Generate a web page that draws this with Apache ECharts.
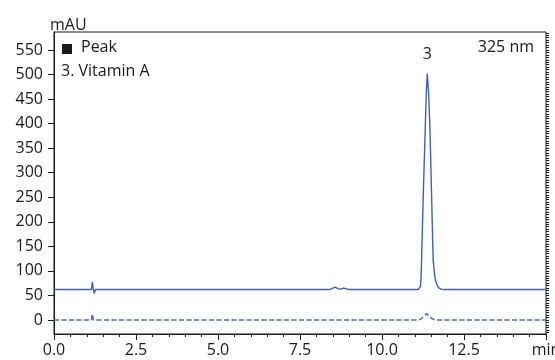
<!DOCTYPE html>
<html>
<head>
<meta charset="utf-8">
<script src="https://cdn.jsdelivr.net/npm/echarts@6/dist/echarts.min.js"></script>
<style>
  html, body { margin: 0; padding: 0; background: #fff; }
  #chart { width: 555px; height: 360px; }
</style>
</head>
<body>
<div id="chart"></div>
<script>
// 325 nm trace (solid)
const uvTime = [0.00, 1.14, 1.17, 1.20, 1.23, 1.26, 1.70, 1.73, 1.76, 2.55, 2.60, 2.65,
  4.58, 4.62, 4.66, 8.40, 8.50, 8.57, 8.66, 8.74, 8.82, 8.90, 9.00,
  11.10, 11.15, 11.17, 11.19, 11.21, 11.26, 11.32, 11.35, 11.38, 11.42, 11.46,
  11.51, 11.56, 11.61, 11.66, 11.72, 11.80, 11.90, 15.00];
const uvSignal = [62, 62, 78, 62, 54, 62, 62, 64, 62, 62, 63, 62,
  62, 63, 62, 62, 65, 67, 64, 63, 65, 64, 62,
  62, 64, 68, 85, 130, 259, 394, 463, 502, 463, 394,
  259, 122, 88, 74, 66, 63, 62, 62];

// blank trace (dashed)
const blankTime = [0.00, 1.14, 1.17, 1.20, 1.22, 1.25, 2.55, 2.60, 2.65,
  11.12, 11.20, 11.28, 11.36, 11.42, 11.50, 11.58, 11.68, 15.00];
const blankSignal = [0, 0, 12, 0, -4, 0, 0, 1.5, 0,
  0, 3, 8, 13, 10, 4, 1, 0, 0];

const yTicks = [0, 50, 100, 150, 200, 250, 300, 350, 400, 450, 500, 550];
const peakNames = ['3. Vitamin A'];
const peakLabel = '3';
const wavelength = '325 nm';

const yMinor = [];
for (let v = -25; v <= 585; v += 5) yMinor.push(v);

const font = 'Open Sans';
const ink = '#1a1a1a';
const blue = '#3f60b3';

const zip = (xs, ys) => xs.map((x, i) => [x, ys[i]]);

const chart = echarts.init(document.getElementById('chart'));

const option = {
  animation: false,
  textStyle: { fontFamily: font, color: ink },
  title: {
    text: 'mAU',
    left: 45,
    top: 12,
    textStyle: { fontFamily: font, fontSize: 16, fontWeight: 'normal', color: ink }
  },
  grid: {
    left: 54, right: 9, top: 32, bottom: 26,
    outerBoundsMode: 'none',
    containLabel: false,
    show: true, borderColor: ink, borderWidth: 1, backgroundColor: 'transparent'
  },
  xAxis: {
    type: 'value',
    min: 0, max: 15, interval: 2.5,
    axisLine: { onZero: false, lineStyle: { color: ink, width: 1 } },
    axisTick: { length: 6, lineStyle: { color: ink } },
    minorTick: { show: true, splitNumber: 5, length: 3, lineStyle: { color: ink } },
    splitLine: { show: false },
    axisLabel: {
      margin: 8, fontSize: 16, color: ink, fontFamily: font,
      formatter: v => (v === 15 ? 'min' : v.toFixed(1))
    }
  },
  yAxis: [
    {
      type: 'value',
      min: -28.5, max: 586.7,
      axisLine: { show: true, onZero: false, lineStyle: { color: ink, width: 1 } },
      axisTick: { show: true, length: 6, customValues: yTicks, lineStyle: { color: ink } },
      splitLine: { show: false },
      axisLabel: { margin: 11, fontSize: 16, color: ink, fontFamily: font, customValues: yTicks }
    },
    {
      type: 'value',
      min: -28.5, max: 586.7,
      axisLine: { show: false, onZero: false },
      axisTick: { show: true, length: 3, customValues: yMinor, lineStyle: { color: ink } },
      splitLine: { show: false },
      axisLabel: { show: false }
    }
  ],
  graphic: [
    { type: 'rect', left: 62, top: 44, shape: { width: 10, height: 10 }, style: { fill: ink } },
    { type: 'text', left: 81, top: 39, style: { text: 'Peak', font: '16px ' + font, fill: ink } },
    { type: 'text', left: 61, top: 63, style: { text: peakNames.join('\n'), font: '16px ' + font, fill: ink } },
    { type: 'text', right: 21, top: 39, style: { text: wavelength, font: '16px ' + font, fill: ink } }
  ],
  series: [
    {
      name: 'UV',
      type: 'line',
      data: zip(uvTime, uvSignal),
      showSymbol: false,
      lineStyle: { color: blue, width: 1.4 },
      markPoint: {
        symbol: 'circle',
        symbolSize: 0,
        label: { show: true, position: 'top', distance: 11, formatter: peakLabel, fontSize: 16, color: ink, fontFamily: font },
        data: [{ type: 'max' }]
      }
    },
    {
      name: 'Blank',
      type: 'line',
      data: zip(blankTime, blankSignal),
      showSymbol: false,
      z: 3,
      lineStyle: { color: '#4a6cb8', width: 1.5, type: [5, 2.5] }
    }
  ]
};

chart.setOption(option);
</script>
</body>
</html>
